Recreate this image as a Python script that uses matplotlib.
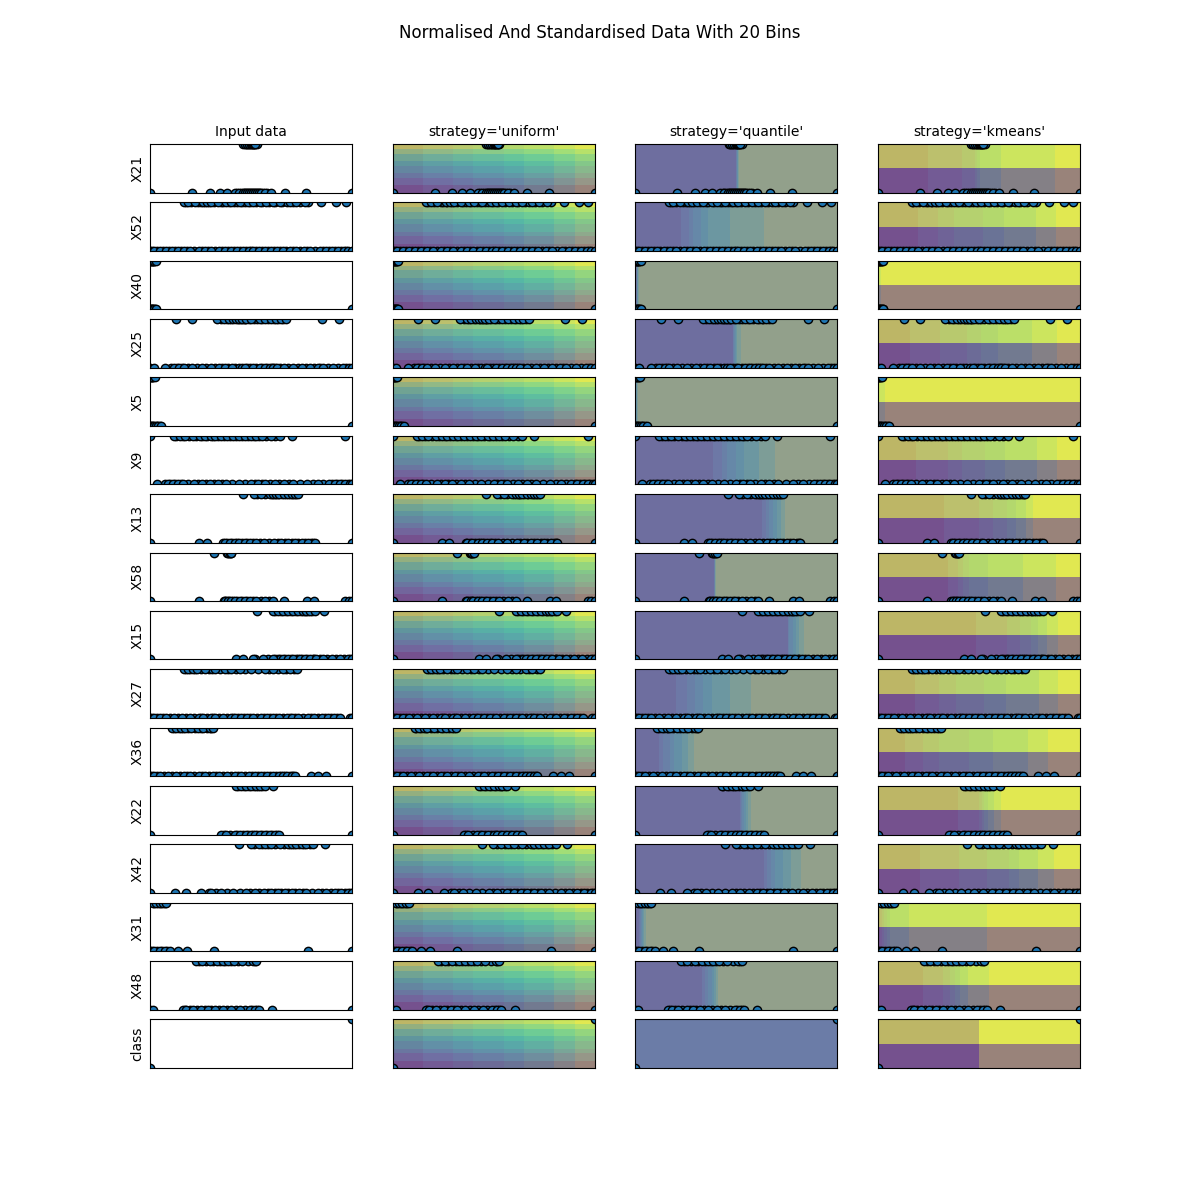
#!/usr/bin/python3
import matplotlib
matplotlib.use("Agg")
import matplotlib.pyplot as plt

FEATURES = ["X21", "X52", "X40", "X25", "X5", "X9", "X13", "X58",
            "X15", "X27", "X36", "X22", "X42", "X31", "X48", "class"]
TITLES = ["Input data", "strategy='uniform'", "strategy='quantile'", "strategy='kmeans'"]

# samples sitting on y=1, one list per feature
TOP_X = [
    [.47, .48, .49, .50, .505, .51, .515, .52],
    [.167, .188, .221, .262, .282, .304, .337, .378, .403, .444, .485, .51, .543, .576,
     .609, .642, .691, .724, .766, .848, .922, .967],
    [0, .005, .01, .015, .02, .028],
    [.127, .21, .333, .366, .39, .41, .426, .44, .455, .475, .5, .543, .57, .6, .625,
     .646, .675, .853, .936],
    [0, .005, .012, .023],
    [0, .119, .147, .175, .213, .245, .27, .3, .323, .353, .383, .41, .439, .47, .498,
     .526, .554, .597, .642, .70, .964],
    [.46, .515, .551, .592, .61, .625, .64, .663, .683, .70, .716, .73],
    [.317, .386, .395, .403],
    [.528, .609, .634, .658, .683, .708, .733, .757, .774, .79, .815, .86],
    [.168, .188, .213, .233, .27, .32, .37, .403, .444, .5, .568, .609, .658, .691, .729],
    [.109, .13, .155, .172, .205, .238, .262, .295, .312],
    [.427, .452, .477, .5, .526, .543, .568, .606],
    [.442, .498, .538, .571, .60, .642, .683, .70, .724, .75, .774, .807, .865],
    [.015, .03, .048, .065, .08],
    [.226, .257, .295, .33, .36, .386, .416, .455, .51, .526],
    [1],
]

# samples sitting on y=0
BOTTOM_X = [
    [0, .208, .295, .345, .381, .42, .44, .46, .47, .48, .49, .50, .51, .52, .53, .54,
     .55, .57, .60, .667, .774, 1],
    [0, .02, .05, .08, .11, .14, .17, .2, .24, .27, .3, .34, .37, .4, .43, .46, .49, .51,
     .54, .57, .6, .63, .66, .69, .72, .76, .79, .84, .87, .9, .93, .96, .98, 1],
    [0, .005, .01, .015, .02, .028, 1],
    [0, .018, .076, .12, .145, .168, .208, .257, .3, .34, .37, .406, .469, .51, .543, .568,
     .593, .61, .63, .663, .708, .75, .79, .83, .856, .906, .955, .983, 1],
    [0, .005, .01, .02, .03, .04, .056, 1],
    [.036, .089, .114, .139, .163, .218, .257, .295, .337, .378, .439, .5, .535, .568, .62,
     .663, .708, .779, .832, .884, .914, .94, .964, .99, 1],
    [0, .243, .28, .37, .395, .42, .44, .468, .493, .522, .566, .614, .65, .683, .716, .75,
     .782, .815, 1],
    [0, .243, .37, .386, .4, .42, .444, .468, .495, .526, .571, .609, .663, .779, .81, .964,
     .983, 1],
    [0, .427, .46, .51, .559, .609, .658, .683, .708, .74, .766, .79, .823, .856, .898, .939,
     .98, 1],
    [0, .02, .05, .08, .12, .16, .2, .24, .26, .3, .32, .36, .4, .42, .45, .48, .51, .55,
     .58, .61, .64, .68, .7, .73, .78, .81, .85, .88, .91, .94, .988, 1],
    [0, .02, .05, .09, .13, .17, .2, .24, .27, .31, .34, .38, .42, .45, .49, .52, .55, .58,
     .61, .64, .66, .68, .7, .716, .794, .832, .87, 1],
    [0, .353, .375, .419, .444, .474, .5, .518, .543, .568, .592, .617, .639, 1],
    [0, .125, .177, .254, .304, .35, .411, .477, .518, .564, .60, .634, .667, .70, .736,
     .774, .832, .873, .914, .947, .98, 1],
    [0, .02, .048, .073, .097, .139, .185, .317, .782, 1],
    [0, .015, .163, .18, .213, .254, .287, .32, .36, .403, .445, .493, .518, .538, .604, 1],
    [0],
]

# crowded samples drawn first, so the ones above leave only their outlines showing
CROWDED_TOP_X = [
    [.462, .473, .486, .497, .508, .519, .528],
    [.176, .204, .238, .25, .27, .293, .318, .349, .361, .39, .417, .431, .457, .472,
     .497, .523, .556, .59, .62, .655, .677, .705, .74, .782],
    [.008, .018],
    [.352, .379, .402, .433, .448, .463, .468, .489, .512, .527, .556, .585, .612, .634, .66],
    [.008, .017],
    [.131, .162, .193, .229, .258, .284, .312, .338, .368, .396, .424, .454, .484, .512,
     .54, .575, .62],
    [.53, .568, .602, .618, .632, .652, .672, .692, .708, .722],
    [.381, .39, .399],
    [.62, .646, .671, .696, .72, .745, .765, .782, .802],
    [.178, .2, .223, .25, .29, .306, .345, .388, .425, .472, .535, .59, .632, .675, .712],
    [.118, .142, .164, .188, .222, .25, .28, .304],
    [.436, .463, .488, .512, .534, .556],
    [.515, .555, .585, .62, .662, .692, .712, .737, .762, .79],
    [.022, .04, .056, .072],
    [.241, .276, .312, .345, .373, .401, .435, .485, .518],
    [],
]
CROWDED_BOTTOM_X = [
    [.432, .451, .465, .475, .485, .495, .505, .515, .525, .535, .545, .56, .58],
    [.01, .035, .065, .095, .125, .155, .185, .22, .255, .285, .32, .355, .385, .415, .445,
     .475, .5, .525, .555, .585, .615, .645, .675, .705, .74, .775, .815, .855, .885, .915,
     .945, .97],
    [.012, .024],
    [.105, .133, .156, .188, .232, .278, .32, .355, .388, .42, .438, .455, .482, .497,
     .526, .556, .58, .602, .62, .645, .685, .73, .77, .81, .842, .88, .93, .97],
    [.015, .035, .048],
    [.075, .101, .126, .151, .19, .238, .276, .316, .358, .408, .47, .518, .552, .594, .64,
     .686, .744, .806, .858, .9, .927, .952, .977],
    [.362, .382, .408, .43, .454, .48, .508, .544, .59, .632, .666, .7, .733, .766, .798,
     .808],
    [.364, .378, .393, .41, .432, .456, .482, .51, .548, .59],
    [.52, .585, .634, .67, .696, .72, .752, .778, .806, .84, .877, .918, .96, .99,
     .62, .645, .73, .81],
    [.01, .035, .065, .1, .14, .18, .22, .25, .28, .31, .34, .38, .41, .435, .465, .495,
     .53, .565, .595, .625, .66, .69, .715, .755, .795, .83, .865, .895, .925],
    [.01, .035, .07, .11, .15, .185, .22, .255, .29, .325, .36, .4, .435, .47, .505, .535,
     .565, .595, .625, .65, .67, .69, .708],
    [.364, .397, .43, .459, .487, .509, .53, .555, .58, .604, .628],
    [.29, .327, .38, .444, .497, .54, .582, .617, .65, .684, .718, .755, .803, .852, .893,
     .93, .963, .99],
    [.01, .034, .06, .085],
    [.172, .196, .233, .27, .303, .34, .381, .424, .469, .505, .528],
    [],
]

# band limits, as fractions of the axis
UNIFORM_EDGES = [.15, .30, .40, .55, .65, .80, .90]
QUANTILE_EDGES = [
    [.498, .500, .502, .504, .506, .508, .511],
    [.224, .266, .285, .325, .360, .469, .637],
    [.005, .007, .009, .011, .013, .016, .020],
    [.482, .485, .488, .492, .497, .505, .523],
    [.003, .004, .005, .006, .007, .009, .013],
    [.384, .429, .455, .498, .538, .612, .690],
    [.627, .645, .662, .682, .703, .723, .741],
    [.391, .392, .393, .394, .395, .396, .398],
    [.754, .756, .762, .782, .796, .810, .835],
    [.201, .257, .295, .337, .378, .469, .573],
    [.116, .139, .172, .193, .229, .260, .290],
    [.518, .523, .530, .540, .548, .560, .573],
    [.637, .653, .670, .691, .733, .771, .820],
    [.020, .025, .030, .035, .040, .045, .053],
    [.330, .345, .361, .378, .391, .400, .411],
    None,
]
KMEANS_EDGES = [
    [.248, .416, .479, .490, .505, .611, .875],
    [.200, .297, .378, .518, .625, .784, .883],
    [.001, .002, .003, .004, .005, .006, .015],
    [.158, .309, .441, .510, .592, .764, .888],
    [.001, .002, .003, .004, .005, .006, .036],
    [.188, .345, .417, .528, .630, .789, .888],
    [.328, .502, .571, .639, .685, .733, .769],
    [.348, .398, .420, .452, .546, .719, .883],
    [.485, .637, .705, .757, .790, .838, .893],
    [.183, .304, .386, .526, .635, .799, .893],
    [.135, .221, .304, .452, .571, .744, .843],
    [.398, .502, .515, .526, .543, .573, .611],
    [.210, .403, .541, .650, .700, .794, .873],
    [.010, .020, .030, .044, .059, .155, .541],
    [.224, .323, .355, .383, .408, .447, .551],
    [.499, .499, .499, .499, .499, .499, .499],
]
KMEANS_Y_EDGES = [.5, .5, .5, .5, .5, .5, .5]

# middle of each contour level on the encoded 0..20 scale
BAND_VALUES = [1.25, 3.75, 6.25, 8.75, 11.25, 13.75, 16.25, 18.75]
FLAT_VALUE = 5.0


def draw_layer(ax, edges, horizontal=False):
    # one set of stripes, half transparent
    if edges is None:
        limits = [0, 1]
        values = [FLAT_VALUE]
    else:
        limits = [0] + list(edges) + [1]
        values = BAND_VALUES
    if horizontal:
        grid = [[v] for v in values]
        ax.pcolormesh([0, 1], limits, grid, cmap="viridis", vmin=0, vmax=20, alpha=0.5)
    else:
        ax.pcolormesh(limits, [0, 1], [values], cmap="viridis", vmin=0, vmax=20, alpha=0.5)


def main():
    fig = plt.figure(figsize=(12, 12), dpi=100)
    fig.suptitle("Normalised And Standardised Data With 20 Bins")

    for row, name in enumerate(FEATURES):
        for col in range(len(TITLES)):
            ax = plt.subplot(len(FEATURES), len(TITLES), row * len(TITLES) + col + 1)

            if col == 1:
                draw_layer(ax, UNIFORM_EDGES)
                draw_layer(ax, UNIFORM_EDGES, horizontal=True)
            elif col == 2:
                draw_layer(ax, QUANTILE_EDGES[row])
                draw_layer(ax, None, horizontal=True)
            elif col == 3:
                draw_layer(ax, KMEANS_EDGES[row])
                draw_layer(ax, KMEANS_Y_EDGES, horizontal=True)

            top = CROWDED_TOP_X[row] + TOP_X[row]
            bottom = CROWDED_BOTTOM_X[row] + BOTTOM_X[row]
            ax.scatter(top + bottom, [1] * len(top) + [0] * len(bottom), edgecolors="k")

            ax.set_xlim(0, 1)
            ax.set_ylim(0, 1)
            ax.set_xticks([])
            ax.set_yticks([])
            if row == 0:
                ax.set_title(TITLES[col], fontsize=10)
            if col == 0:
                ax.set_ylabel(name)

    plt.savefig("out.png", dpi=100)


if __name__ == "__main__":
    main()
